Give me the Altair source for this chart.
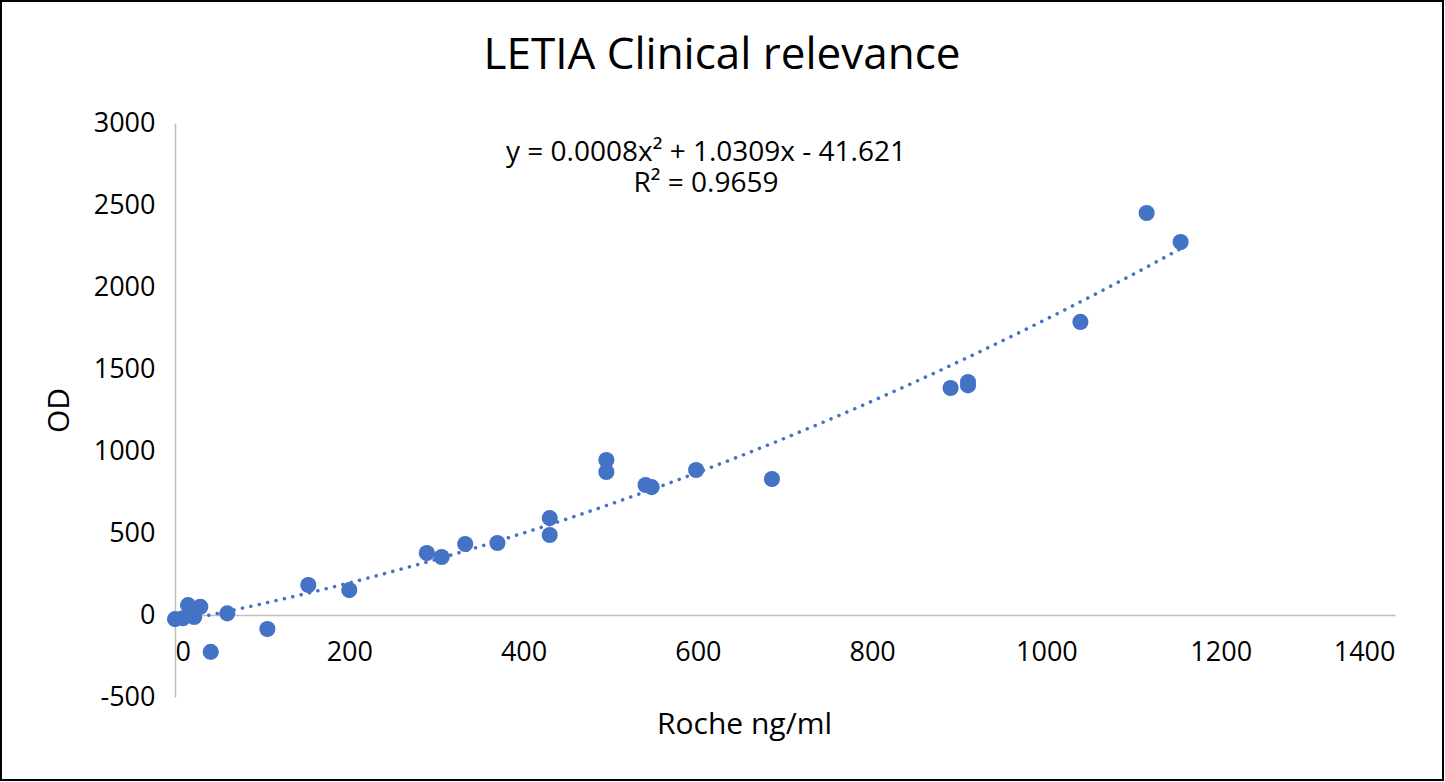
import altair as alt
import pandas as pd

# Data
roche = [0, 9, 15, 22, 29, 60, 41, 106, 153, 200, 289, 306, 333, 370, 430, 430,
         495, 495, 540, 547, 598, 685, 890, 910, 910, 1039, 1115, 1154]
od = [-25, -20, 60, -12, 50, 10, -225, -85, 183, 152, 378, 354, 433, 439, 591, 488,
      945, 872, 793, 780, 884, 829, 1384, 1400, 1421, 1787, 2451, 2274]

x_ticks = [0, 200, 400, 600, 800, 1000, 1200, 1400]
y_ticks = [-500, 0, 500, 1000, 1500, 2000, 2500, 3000]

title_text = "LETIA Clinical relevance"
eq_line1 = "y = 0.0008x² + 1.0309x - 41.621"
eq_line2 = "R² = 0.9659"

df = pd.DataFrame({"roche": roche, "od": od})

FONT = "Open Sans"
BLUE = "#4472C4"
AXIS_GRAY = "#BFBFBF"

W, H = 1220, 574

x_enc = alt.X(
    "roche:Q",
    scale=alt.Scale(domain=[0, 1400], nice=False, zero=False),
    axis=alt.Axis(
        values=x_ticks, title="Roche ng/ml", grid=False, ticks=False,
        labelExpr="toString(datum.value)",
        domainColor=AXIS_GRAY, domainWidth=1.5, offset=-82,
        labelFontSize=27, labelPadding=24, labelColor="#000000", labelFont=FONT,
        titleFontSize=30, titleFont=FONT, titleFontWeight="normal", titleColor="#000000",
        titleX=569, titleY=118, titleBaseline="alphabetic", titleAlign="center",
    ),
)
y_enc = alt.Y(
    "od:Q",
    scale=alt.Scale(domain=[-500, 3000], nice=False, zero=False),
    axis=alt.Axis(
        values=y_ticks, title="OD", grid=False, ticks=False,
        labelExpr="toString(datum.value)",
        domainColor=AXIS_GRAY, domainWidth=1.5,
        labelFontSize=27, labelPadding=20, labelColor="#000000", labelFont=FONT,
        titleFontSize=30, titleFont=FONT, titleFontWeight="normal", titleColor="#000000",
        titleX=-107, titleY=H / 2, titleBaseline="alphabetic", titleAlign="center",
        titleAngle=270,
    ),
)

base = alt.Chart(df)

points = base.mark_circle(size=260, color=BLUE, opacity=1).encode(x=x_enc, y=y_enc)

trend = base.transform_regression(
    "roche", "od", method="poly", order=2
).mark_line(
    color=BLUE, strokeWidth=3.5, strokeDash=[0.1, 8.5], strokeCap="round"
).encode(x=x_enc, y=y_enc)

one = alt.Data(values=[{}])
eq1 = alt.Chart(one).mark_text(
    text=eq_line1, font=FONT, fontSize=28, align="center", baseline="alphabetic", color="#000000"
).encode(x=alt.value(531), y=alt.value(38))
eq2 = alt.Chart(one).mark_text(
    text=eq_line2, font=FONT, fontSize=28, align="center", baseline="alphabetic", color="#000000"
).encode(x=alt.value(531), y=alt.value(69))

title = alt.Chart(one).mark_text(
    text=title_text, font=FONT, fontSize=44, align="center", baseline="alphabetic", color="#000000"
).encode(x=alt.value(547), y=alt.value(-54))

frame = alt.Chart(one).mark_rect(
    fill="#ffffff", fillOpacity=0, stroke="#000000", strokeWidth=2
).encode(x=alt.value(-174), x2=alt.value(1268), y=alt.value(-122), y2=alt.value(657))

chart = alt.layer(frame, trend, points, eq1, eq2, title).properties(
    width=W, height=H,
    autosize=alt.AutoSizeParams(type="none"),
    padding={"left": 175, "top": 123, "right": 50, "bottom": 85},
    background="#ffffff",
).configure_view(stroke=None)

chart.save("out.html", embed_options={"renderer": "svg", "actions": False})
